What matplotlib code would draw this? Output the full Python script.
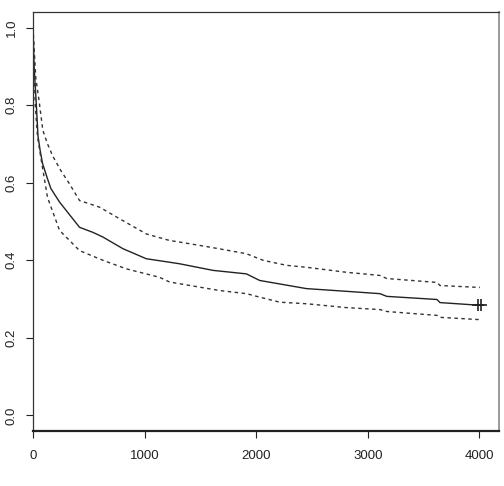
import numpy as np
import matplotlib.pyplot as plt

# Kaplan-Meier estimate
t_surv = [0, 10, 28, 45, 64, 85, 130, 160, 238, 417, 537, 626, 805, 1015,
          1224, 1314, 1613, 1912, 2031, 2211, 2450, 2810, 3108, 3170, 3619,
          3646, 4004]
surv = [1.0, 0.9, 0.81, 0.72, 0.683, 0.65, 0.61, 0.585, 0.55, 0.485, 0.472,
        0.46, 0.43, 0.404, 0.395, 0.391, 0.374, 0.365, 0.348, 0.339, 0.327,
        0.32, 0.314, 0.307, 0.299, 0.291, 0.284]

# upper confidence band
t_upper = [0, 25, 55, 88, 130, 178, 250, 327, 417, 596, 776, 1015, 1224,
           1314, 1583, 1912, 2061, 2271, 2450, 2810, 3108, 3170, 3619, 3646,
           4004]
upper = [1.0, 0.87, 0.81, 0.735, 0.70, 0.668, 0.631, 0.597, 0.554, 0.537,
         0.507, 0.468, 0.451, 0.447, 0.434, 0.417, 0.40, 0.387, 0.382, 0.369,
         0.361, 0.353, 0.343, 0.335, 0.33]

# lower confidence band
t_lower = [0, 20, 40, 70, 130, 238, 417, 626, 836, 1135, 1224, 1673, 1912,
           2031, 2211, 2450, 2810, 3108, 3170, 3619, 3646, 4004]
lower = [1.0, 0.8, 0.72, 0.665, 0.562, 0.477, 0.425, 0.40, 0.378, 0.356,
         0.344, 0.322, 0.314, 0.305, 0.292, 0.288, 0.278, 0.273, 0.268, 0.258,
         0.253, 0.247]

# censoring marks at the end
t_cens = [3990, 4012]
s_cens = [0.284, 0.284]

x_ticks = [0, 1000, 2000, 3000, 4000]
y_ticks = [0.0, 0.2, 0.4, 0.6, 0.8, 1.0]

plt.rcParams['font.family'] = ['Liberation Sans', 'DejaVu Sans']

fig = plt.figure(figsize=(5.04, 4.86), dpi=100)
ax = fig.add_axes([33 / 504, 55 / 486, 466 / 504, 419 / 486])

ax.plot(t_surv, surv, color='#222222', lw=1.0)
ax.plot(t_upper, upper, color='#333333', lw=1.0, linestyle=(0, (2.5, 2.5)))
ax.plot(t_lower, lower, color='#333333', lw=1.0, linestyle=(0, (2.5, 2.5)))
ax.plot(t_cens, s_cens, linestyle='none', marker='+', color='#222222',
        markersize=9, markeredgewidth=1.2)

ax.set_xlim(0, 4175)
ax.set_ylim(-0.04, 1.04)
ax.set_xticks(x_ticks)
ax.set_yticks(y_ticks)
ax.set_xticklabels([str(v) for v in x_ticks])
ax.set_yticklabels(['%.1f' % v for v in y_ticks], rotation=90, va='center')
ax.tick_params(axis='both', direction='out', length=5, width=0.8,
               labelsize=9.5, colors='#222222')
ax.tick_params(axis='x', pad=9)
ax.tick_params(axis='y', pad=6)

for side in ['left', 'top']:
    ax.spines[side].set_color('#333333')
    ax.spines[side].set_linewidth(0.9)
ax.spines['right'].set_color('#888888')
ax.spines['right'].set_linewidth(1.2)
ax.spines['bottom'].set_color('#222222')
ax.spines['bottom'].set_linewidth(1.6)

fig.savefig('out.png', dpi=100)
